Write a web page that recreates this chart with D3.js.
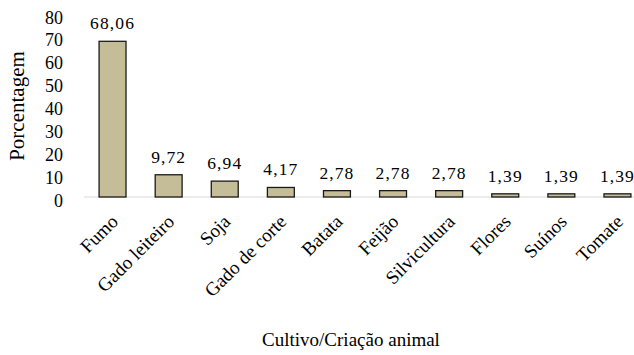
<!DOCTYPE html>
<html>
<head>
<meta charset="utf-8">
<script src="https://cdn.jsdelivr.net/npm/d3@7"></script>
<style>
  html, body { margin: 0; padding: 0; background: #fff; }
  svg { display: block; font-family: "Liberation Serif", "Times New Roman", serif; }
</style>
</head>
<body>
<svg id="chart" width="634" height="355"></svg>
<script>
// Share of each crop / livestock activity (%)
const categories = ["Fumo", "Gado leiteiro", "Soja", "Gado de corte", "Batata", "Feijão", "Silvicultura", "Flores", "Suínos", "Tomate"];
const values = [68.06, 9.72, 6.94, 4.17, 2.78, 2.78, 2.78, 1.39, 1.39, 1.39];
const yTicks = [0, 10, 20, 30, 40, 50, 60, 70, 80];

const svg = d3.select("#chart");
const baseY = 197;

const x = d3.scaleBand()
  .domain(categories)
  .range([84.5, 645.5])
  .paddingInner(0.52)
  .paddingOuter(0.26);

const y = d3.scaleLinear()
  .domain([0, 80])
  .range([baseY, 14]);

const fmt = v => v.toFixed(2).replace(".", ",");

// Y tick labels (no axis line, no tick marks)
const yAxis = d3.axisLeft(y).tickValues(yTicks).tickSize(0).tickPadding(0);
const yg = svg.append("g").attr("transform", "translate(63,0)").call(yAxis);
yg.attr("font-family", null).attr("font-size", null);
yg.select(".domain").remove();
yg.selectAll("text")
  .style("font-family", "'Liberation Serif', serif")
  .attr("font-size", 18)
  .attr("fill", "#000")
  .attr("dy", "0.5em");

// Baseline
svg.append("line")
  .attr("x1", 84).attr("x2", 634)
  .attr("y1", baseY).attr("y2", baseY)
  .attr("stroke", "#d9d9d9").attr("stroke-width", 1);

// Bars
svg.append("g").selectAll("rect")
  .data(values)
  .join("rect")
  .attr("x", (d, i) => x(categories[i]))
  .attr("y", d => y(d))
  .attr("width", x.bandwidth())
  .attr("height", d => baseY - y(d))
  .attr("fill", "#c4bd97")
  .attr("stroke", "#1a1a1a")
  .attr("stroke-width", 1.3);

// Value labels
svg.append("g").selectAll("text")
  .data(values)
  .join("text")
  .attr("x", (d, i) => x(categories[i]) + x.bandwidth() / 2)
  .attr("y", d => y(d) - 12)
  .attr("text-anchor", "middle")
  .attr("font-size", 17.5)
  .attr("letter-spacing", 1.1)
  .attr("fill", "#000")
  .text(fmt);

// Category labels, rotated
svg.append("g").selectAll("text")
  .data(categories)
  .join("text")
  .attr("transform", d => `translate(${x(d) + x.bandwidth() / 2 + 2},${baseY + 21}) rotate(-45)`)
  .attr("text-anchor", "end")
  .attr("dy", "0.35em")
  .attr("font-size", 19)
  .attr("fill", "#000")
  .text(d => d);

// Axis titles
svg.append("text")
  .attr("transform", "translate(24,106) rotate(-90)")
  .attr("text-anchor", "middle")
  .attr("font-size", 21)
  .attr("fill", "#000")
  .text("Porcentagem");

svg.append("text")
  .attr("x", 351)
  .attr("y", 346)
  .attr("text-anchor", "middle")
  .attr("font-size", 19)
  .attr("fill", "#000")
  .text("Cultivo/Criação animal");
</script>
</body>
</html>
